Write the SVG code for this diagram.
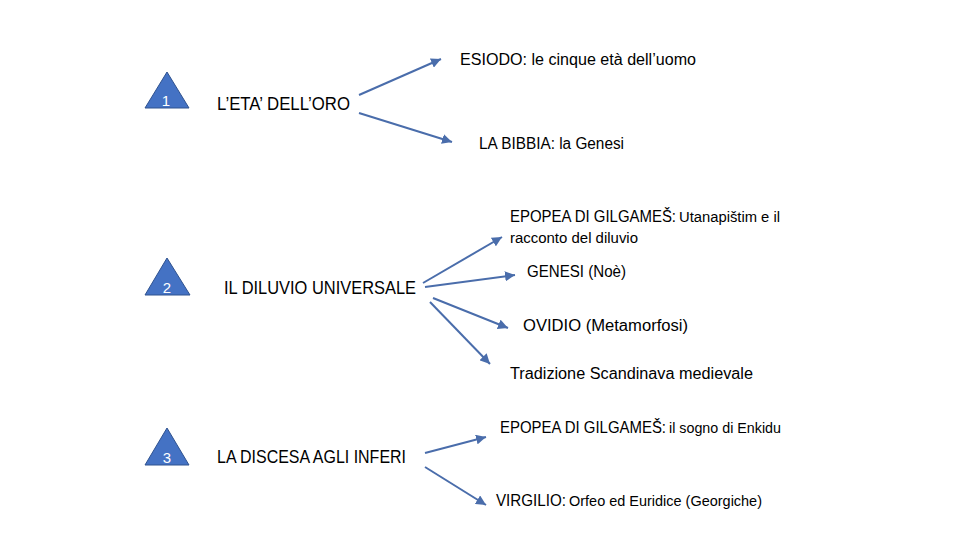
<svg xmlns="http://www.w3.org/2000/svg" width="960" height="540" viewBox="0 0 960 540">
<defs>
<style>
.tri{fill:#4472C4;stroke:#2F528F;stroke-width:1}
.num{font-family:"Liberation Sans",Arial,sans-serif;font-size:15px;fill:#fff;text-anchor:middle}
.main{font-family:"Liberation Sans",Arial,sans-serif;font-size:18px;fill:#000}
.lab{font-family:"Liberation Sans",Arial,sans-serif;font-size:16px;fill:#000}
.sm{font-size:14px}
.arr{stroke:#4A6DAB;stroke-width:2;fill:none;marker-end:url(#ah)}
</style>
<marker id="ah" markerUnits="userSpaceOnUse" markerWidth="12" markerHeight="10" refX="10" refY="5" orient="auto">
<path d="M0,0 L10,5 L0,10 Z" fill="#4A6DAB"/>
</marker>
</defs>
<rect width="960" height="540" fill="#fff"/>
<g id="node1">
<polygon class="tri" points="167,72 189,108 145,108"/>
<text class="num" x="166" y="106">1</text>
<text class="main" x="217" y="110" textLength="133" lengthAdjust="spacingAndGlyphs">L’ETA’ DELL’ORO</text>
</g>
<g id="node2">
<polygon class="tri" points="167,258 190,295 145,295"/>
<text class="num" x="167" y="293">2</text>
<text class="main" x="224" y="294" textLength="192" lengthAdjust="spacingAndGlyphs">IL DILUVIO UNIVERSALE</text>
</g>
<g id="node3">
<polygon class="tri" points="167,428 189,465 145,465"/>
<text class="num" x="167" y="463">3</text>
<text class="main" x="217" y="463" textLength="189" lengthAdjust="spacingAndGlyphs">LA DISCESA AGLI INFERI</text>
</g>
<g id="esiodo"><text class="lab" x="460" y="65" textLength="236" lengthAdjust="spacingAndGlyphs">ESIODO: le cinque età dell’uomo</text></g>
<g id="bibbia"><text class="lab" x="479" y="149" textLength="145" lengthAdjust="spacingAndGlyphs">LA BIBBIA: la Genesi</text></g>
<g id="gilgames1">
<text class="lab" x="510" y="222"><tspan textLength="166" lengthAdjust="spacingAndGlyphs">EPOPEA DI GILGAMEŠ:</tspan><tspan class="sm" x="679" textLength="101" lengthAdjust="spacingAndGlyphs">Utanapištim e il</tspan></text>
<text class="lab sm" x="510" y="243" textLength="128" lengthAdjust="spacingAndGlyphs">racconto del diluvio</text>
</g>
<g id="genesi"><text class="lab" x="527" y="277" textLength="99" lengthAdjust="spacingAndGlyphs">GENESI (Noè)</text></g>
<g id="ovidio"><text class="lab" x="523" y="331" textLength="165" lengthAdjust="spacingAndGlyphs">OVIDIO (Metamorfosi)</text></g>
<g id="scandinava"><text class="lab" x="510" y="379" textLength="243" lengthAdjust="spacingAndGlyphs">Tradizione Scandinava medievale</text></g>
<g id="gilgames2"><text class="lab" x="500" y="433"><tspan textLength="166" lengthAdjust="spacingAndGlyphs">EPOPEA DI GILGAMEŠ:</tspan><tspan class="sm" x="669" textLength="112" lengthAdjust="spacingAndGlyphs">il sogno di Enkidu</tspan></text></g>
<g id="virgilio"><text class="lab" x="496" y="506"><tspan textLength="70" lengthAdjust="spacingAndGlyphs">VIRGILIO:</tspan><tspan class="sm" x="569" textLength="193" lengthAdjust="spacingAndGlyphs">Orfeo ed Euridice (Georgiche)</tspan></text></g>
<g id="connectors">
<line class="arr" x1="359" y1="95" x2="441" y2="59"/>
<line class="arr" x1="359" y1="113" x2="452" y2="142"/>
<line class="arr" x1="423" y1="283" x2="502" y2="237"/>
<line class="arr" x1="425" y1="287" x2="515" y2="275"/>
<line class="arr" x1="433" y1="298" x2="508" y2="328"/>
<line class="arr" x1="430" y1="302" x2="490" y2="364"/>
<line class="arr" x1="425" y1="453" x2="486" y2="437"/>
<line class="arr" x1="425" y1="467" x2="486" y2="505"/>
</g>
</svg>
